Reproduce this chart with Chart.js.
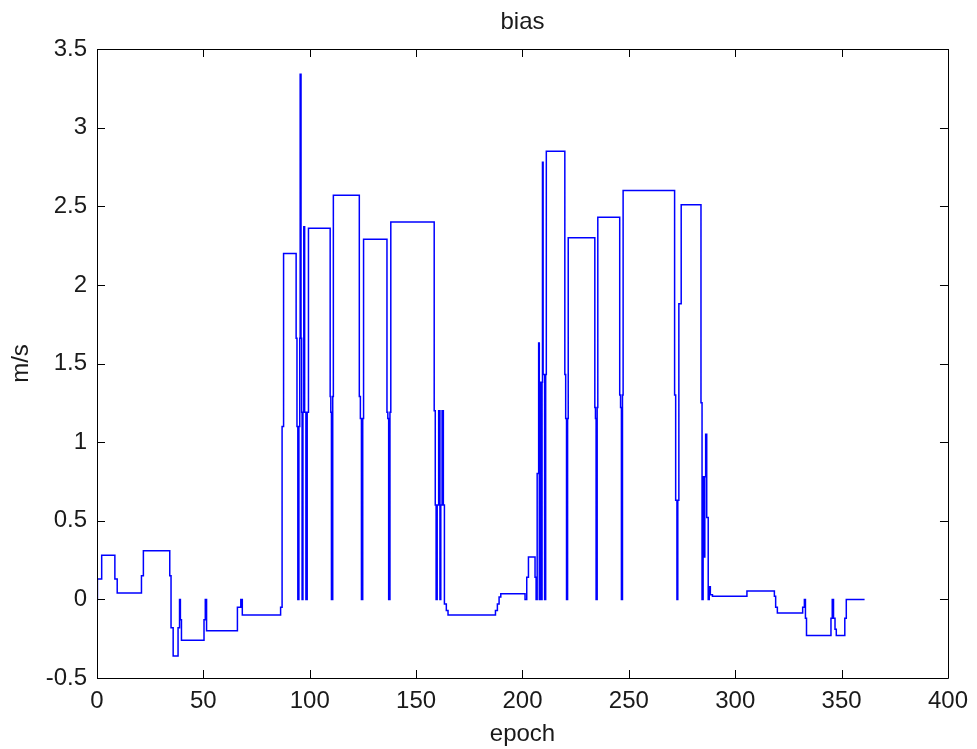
<!DOCTYPE html>
<html>
<head>
<meta charset="utf-8">
<title>bias</title>
<script src="https://cdn.jsdelivr.net/npm/chart.js@4.4.1/dist/chart.umd.min.js"></script>
<style>
  html, body { margin: 0; padding: 0; background: #fff; }
  #wrap { width: 977px; height: 749px; }
</style>
</head>
<body>
<div id="wrap"><canvas id="biasChart" width="977" height="749"></canvas></div>
<script>
// epoch where the bias changes, and the value it holds from there on
const epochs = [
  0, 0.2, 2.2, 8.4, 9.5, 20.9, 21.8, 34.2, 34.8, 35.8, 38.1, 38.8, 39.2, 39.7,
  50.3, 50.9, 51.5, 66.0, 67.6, 68.3, 86.3, 87.0, 87.7,
  93.6, 94.0, 94.4, 94.9, 95.3, 95.5, 95.9, 96.2, 96.4, 96.8, 97.2, 97.6, 98.2, 98.8, 99.4,
  109.6, 109.9, 110.2, 110.8, 111.1,
  123.3, 123.8, 124.3, 124.9, 125.3,
  136.3, 136.7, 137.1, 137.7, 138.1,
  158.5, 159.0, 159.4, 159.9, 160.6, 161.2, 161.6, 162.2, 162.8, 163.3, 164.2, 165.0,
  187.3, 188.2, 189.0, 189.8,
  201.2, 202.0, 202.8, 205.9, 206.4, 206.9, 207.6, 207.9, 208.3, 208.6, 208.9, 209.2, 209.4, 209.7, 210.4, 210.9, 211.2,
  219.9, 220.3, 220.7, 221.2, 221.5,
  234.0, 234.3, 234.6, 235.1, 235.4,
  245.7, 246.1, 246.5, 247.0, 247.3,
  271.5, 272.0, 272.6, 273.0, 273.5, 274.6,
  283.9, 284.4, 284.9, 285.3, 285.7, 286.1, 286.6, 287.3, 287.8, 288.3, 289.3,
  305.5, 318.4, 319.0, 319.8,
  331.7, 332.5, 333.0, 333.5,
  345.0, 345.6, 346.2, 346.9, 347.5, 351.5, 352.2, 360.8
];
const bias = [
  0, 0.13, 0.28, 0.13, 0.04, 0.15, 0.31, 0.15, -0.18, -0.36, -0.18, 0.0, -0.13, -0.26,
  -0.13, 0.0, -0.20, -0.05, 0.0, -0.10, -0.05, 1.10, 2.20,
  1.66, 1.10, 0.0, 1.10, 1.66, 3.34, 1.66, 1.19, 0.0, 1.19, 2.37, 1.19, 0.0, 1.19, 2.36,
  1.29, 1.19, 0.0, 1.29, 2.57,
  1.29, 1.15, 0.0, 1.15, 2.29,
  1.19, 1.15, 0.0, 1.19, 2.40,
  1.20, 0.60, 0.0, 0.60, 1.20, 0.0, 0.60, 1.20, 0.60, -0.03, -0.07, -0.10,
  -0.07, -0.03, 0.015, 0.036,
  0.0, 0.14, 0.27, 0.14, 0.0, 0.80, 1.63, 0.0, 0.80, 1.38, 0.0, 1.38, 2.78, 1.43, 0.0, 1.43, 2.85,
  1.43, 1.15, 0.0, 1.15, 2.30,
  1.22, 1.15, 0.0, 1.22, 2.43,
  1.30, 1.22, 0.0, 1.30, 2.60,
  1.30, 0.63, 0.0, 0.63, 1.88, 2.51,
  1.25, 0.0, 0.78, 0.27, 0.78, 1.05, 0.52, 0.0, 0.08, 0.03, 0.02,
  0.053, 0.02, -0.05, -0.087,
  -0.05, 0.0, -0.12, -0.23,
  -0.12, 0.0, -0.12, -0.19, -0.23, -0.12, 0.0, 0.0
];

const xTicks = [0, 50, 100, 150, 200, 250, 300, 350, 400];
const yTicks = [-0.5, 0, 0.5, 1, 1.5, 2, 2.5, 3, 3.5];
const chartTitle = 'bias';

const textColor = '#1a1a1a';
const fontFamily = '"Liberation Sans", Arial, sans-serif';

// matlab style box with inward ticks on all four sides, title centred over the axes
const boxPlugin = {
  id: 'boxPlugin',
  afterDraw(chart) {
    const {ctx, chartArea: a, scales} = chart;
    const len = 8;
    ctx.save();
    ctx.strokeStyle = '#000';
    ctx.lineWidth = 1;
    ctx.beginPath();
    ctx.rect(Math.round(a.left) + 0.5, Math.round(a.top) + 0.5,
             Math.round(a.right - a.left), Math.round(a.bottom - a.top));
    scales.x.ticks.forEach(t => {
      const px = Math.round(scales.x.getPixelForValue(t.value)) + 0.5;
      ctx.moveTo(px, a.bottom); ctx.lineTo(px, a.bottom - len);
      ctx.moveTo(px, a.top); ctx.lineTo(px, a.top + len);
    });
    scales.y.ticks.forEach(t => {
      const py = Math.round(scales.y.getPixelForValue(t.value)) + 0.5;
      ctx.moveTo(a.left, py); ctx.lineTo(a.left + len, py);
      ctx.moveTo(a.right, py); ctx.lineTo(a.right - len, py);
    });
    ctx.stroke();

    ctx.fillStyle = textColor;
    ctx.font = '24px ' + fontFamily;
    ctx.textAlign = 'center';
    ctx.textBaseline = 'middle';
    ctx.fillText(chartTitle, (a.left + a.right) / 2, 22);
    ctx.restore();
  }
};

const ctx = document.getElementById('biasChart').getContext('2d');
const biasChart = new Chart(ctx, {
  type: 'line',
  data: {
    datasets: [{
      label: 'bias',
      data: epochs.map((e, i) => ({x: e, y: bias[i]})),
      borderColor: '#0000ff',
      borderWidth: 1.5,
      pointRadius: 0,
      stepped: true,
      fill: false
    }]
  },
  options: {
    responsive: false,
    animation: false,
    events: [],
    layout: { padding: { left: 0, right: 26, top: 49, bottom: 0 } },
    plugins: {
      legend: { display: false },
      tooltip: { enabled: false },
      title: { display: false }
    },
    scales: {
      x: {
        type: 'linear',
        min: 0, max: 400,
        afterBuildTicks: s => { s.ticks = xTicks.map(v => ({value: v})); },
        afterFit: s => { s.height = 71; },
        grid: { display: false, drawTicks: false },
        border: { display: false },
        ticks: { color: textColor, padding: 9, maxRotation: 0,
                 callback: v => String(v),
                 font: { family: fontFamily, size: 24 } },
        title: { display: true, text: 'epoch', color: textColor,
                 font: { family: fontFamily, size: 24 }, padding: { top: 0, bottom: 0 } }
      },
      y: {
        min: -0.5, max: 3.5,
        afterBuildTicks: s => { s.ticks = yTicks.map(v => ({value: v})); },
        afterFit: s => { s.width = 97; },
        grid: { display: false, drawTicks: false },
        border: { display: false },
        ticks: { color: textColor, padding: 10,
                 callback: v => String(v),
                 font: { family: fontFamily, size: 24 } },
        title: { display: true, text: 'm/s', color: textColor,
                 font: { family: fontFamily, size: 24 }, padding: { top: 7, bottom: 0 } }
      }
    }
  },
  plugins: [boxPlugin]
});
</script>
</body>
</html>
